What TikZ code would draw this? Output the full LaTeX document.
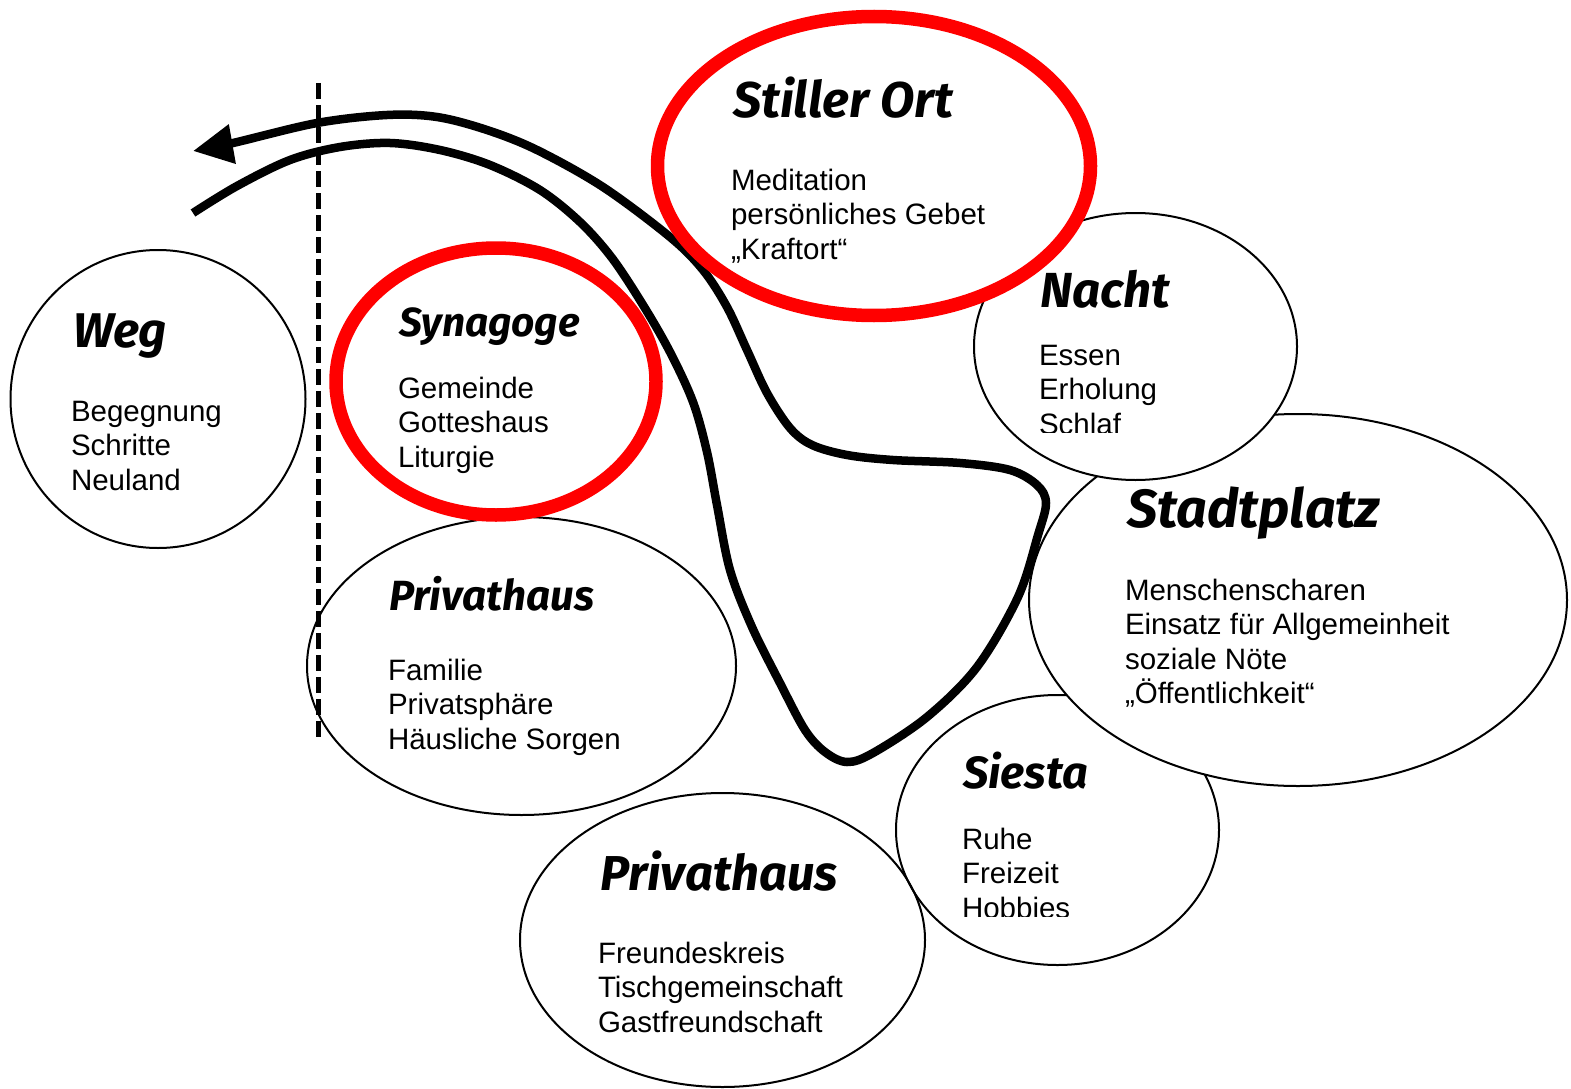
\documentclass[tikz,border=0pt]{standalone}
\usepackage{graphicx}
\usepackage{fontspec}
\setmainfont{Liberation Sans}
\newfontfamily\headfont{Fira Sans}
\usetikzlibrary{arrows.meta,shapes.geometric}
\definecolor{ringred}{RGB}{255,0,0}
\newcommand\tline[1]{\hbox{#1}}
\newcommand\bodytext[1]{\fontsize{29.5}{34.5}\selectfont\vtop{\baselineskip=34.5pt\lineskiplimit=-20pt #1}}
\newcommand\headtext[2]{\resizebox{#1pt}{!}{\fontsize{50}{60}\selectfont\headfont\bfseries\itshape #2}}
\tikzset{
  bubble/.style={shape=ellipse, draw=black, line width=2pt, fill=white, inner sep=0pt},
  hollow/.style={shape=ellipse, draw=black, line width=2pt, inner sep=0pt},
  whitedisk/.style={shape=ellipse, fill=white, inner sep=0pt},
  redring/.style={shape=ellipse, draw=ringred, line width=13.5pt, inner sep=0pt},
  bodynode/.style={anchor=base west, inner sep=0pt, outer sep=0pt},
  headnode/.style={anchor=base west, inner sep=0pt, outer sep=0pt},
  loopline/.style={line width=8.5pt, draw=black},
  divider/.style={line width=5pt, dash pattern=on 16pt off 6pt}
}
\begin{document}
\begin{tikzpicture}[x=1pt,y=-1pt]
\useasboundingbox[fill=white] (0,0) rectangle (1571,1089);

% ellipses (back to front)
\node[bubble, minimum width=295pt, minimum height=298pt] (weg) at (158,399) {};
\node[bubble, minimum width=429pt, minimum height=298pt] (priv1) at (521.5,666) {};
\node[bubble, minimum width=323pt, minimum height=270pt] (siesta) at (1057.5,830) {};
\node[hollow, minimum width=405pt, minimum height=294pt] (priv2) at (722.5,940) {};
\node[bubble, minimum width=538pt, minimum height=372pt] (stadt) at (1298,600) {};
\node[bubble, minimum width=323pt, minimum height=267pt] (nacht) at (1135.5,346.5) {};
\node[whitedisk, minimum width=433pt, minimum height=299pt] (stillfill) at (874,166) {};
\node[whitedisk, minimum width=320pt, minimum height=267pt] (synfill) at (496,381.5) {};

% the way (loop with arrow)
\draw[loopline, -{Triangle[length=40pt,width=38pt]}] plot[smooth, tension=0.55] coordinates {
  (193,213) (237,186) (290,160) (340,147) (390,143) (440,150) (490,165)
  (540,190) (580,222) (612,258) (643,305) (670,352) (693,402) (707,452)
  (717,505) (730,570) (752,627) (780,683) (805,730) (825,752) (847,762)
  (873,753) (927,717) (977,667) (1018,597) (1038,535) (1046,503)
  (1037,485) (1010,470) (960,463) (893,460) (847,455) (812,445) (790,428)
  (767,393) (747,350) (727,307) (703,270) (670,237) (603,187) (537,150)
  (487,130) (437,117) (387,115) (317,123) (233,143) (193,151)};

% red rings
\node[redring, minimum width=433pt, minimum height=299pt] (stillring) at (874,166) {};
\node[redring, minimum width=320pt, minimum height=267pt] (synring) at (496,381.5) {};

% dashed divider
\coordinate (dtop) at (318,83);
\coordinate (dbot) at (318,742);
\draw[divider] (dtop) -- (dbot);

% texts
\node[headnode] (wegH) at (73,347) {\headtext{94}{Weg}};
\node[bodynode] (wegB) at (71,421) {\bodytext{\tline{Begegnung}\tline{Schritte}\tline{Neuland}}};

\node[headnode] (synH) at (399,336) {\headtext{181}{Synagoge}};
\node[bodynode] (synB) at (398,398) {\bodytext{\tline{Gemeinde}\tline{Gotteshaus}\tline{Liturgie}}};

\node[headnode] (stillH) at (733,118) {\headtext{220}{Stiller Ort}};
\node[bodynode] (stillB) at (731,190) {\bodytext{\tline{Meditation}\tline{persönliches Gebet}\tline{„Kraftort“}}};

\node[headnode] (nachtH) at (1040,307) {\headtext{130}{Nacht}};
\begin{scope}
\clip (1030,330) rectangle (1300,432);
\node[bodynode] (nachtB) at (1039,365) {\bodytext{\tline{Essen}\tline{Erholung}\tline{Schlaf}}};
\end{scope}

\node[headnode] (stadtH) at (1127,527) {\headtext{253}{Stadtplatz}};
\node[bodynode] (stadtB) at (1125,600) {\bodytext{\tline{Menschenscharen}\tline{Einsatz für Allgemeinheit}\tline{soziale Nöte}\tline{„Öffentlichkeit“}}};

\node[headnode] (priv1H) at (389,610) {\headtext{205}{Privathaus}};
\node[bodynode] (priv1B) at (388,680) {\bodytext{\tline{Familie}\tline{Privatsphäre}\tline{Häusliche Sorgen}}};

\node[headnode] (siestaH) at (963,788) {\headtext{125}{Siesta}};
\begin{scope}
\clip (950,810) rectangle (1200,916);
\node[bodynode] (siestaB) at (962,849) {\bodytext{\tline{Ruhe}\tline{Freizeit}\tline{Hobbies}}};
\end{scope}

\node[headnode] (priv2H) at (600,890) {\headtext{238}{Privathaus}};
\node[bodynode] (priv2B) at (598,963) {\bodytext{\tline{Freundeskreis}\tline{Tischgemeinschaft}\tline{Gastfreundschaft}}};
\end{tikzpicture}
\end{document}
